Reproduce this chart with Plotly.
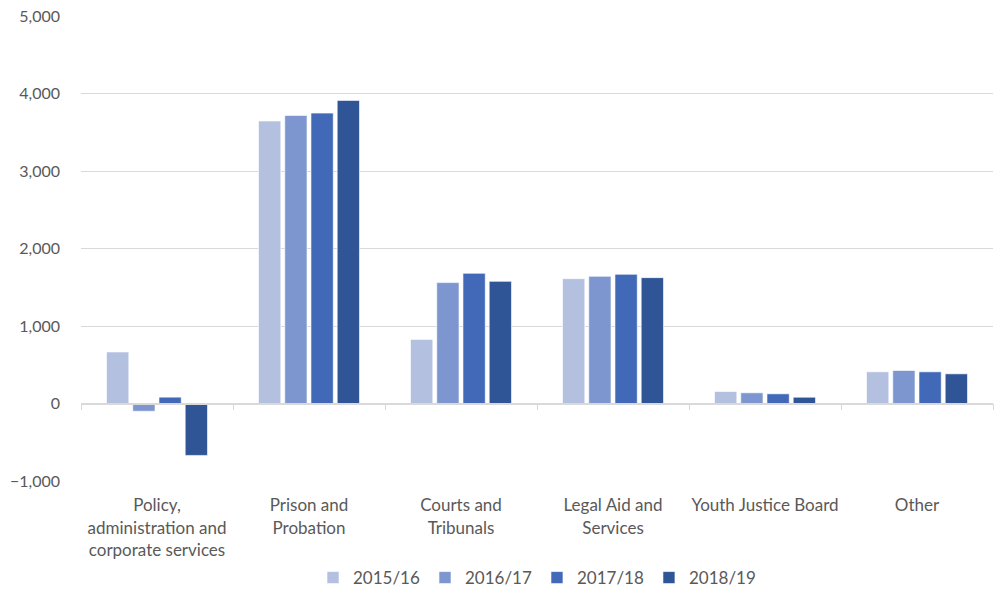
import plotly.graph_objects as go

categories = ["Policy,<br>administration and<br>corporate services", "Prison and<br>Probation",
              "Courts and<br>Tribunals", "Legal Aid and<br>Services", "Youth Justice Board", "Other"]
years = ["2015/16", "2016/17", "2017/18", "2018/19"]
v2015 = [665, 3645, 827, 1611, 155, 409]
v2016 = [-100, 3717, 1560, 1641, 138, 426]
v2017 = [82, 3747, 1680, 1667, 125, 409]
v2018 = [-670, 3911, 1576, 1624, 81, 383]
series = [v2015, v2016, v2017, v2018]
colors = ["#b4c0e0", "#7e96cf", "#4169b8", "#2f5597"]
y_ticks = [-1000, 0, 1000, 2000, 3000, 4000, 5000]

font = "Lato, Open Sans, sans-serif"
fig = go.Figure()
for name, vals, c in zip(years, series, colors):
    fig.add_trace(go.Bar(x=categories, y=vals, name=name, marker=dict(color=c, line=dict(color="rgba(255,255,255,0.6)", width=1))))
# helper trace to show zero-line axis with boundary ticks
fig.add_trace(go.Bar(x=categories, y=[0]*6, xaxis="x2", showlegend=False, hoverinfo="skip", marker=dict(color="rgba(0,0,0,0)")))

ymin, ymax = -1000, 5000
fig.update_layout(
    width=996, height=596,
    margin=dict(l=81, r=3, t=16, b=115, autoexpand=False),
    paper_bgcolor="white", plot_bgcolor="white",
    barmode="group", bargap=0.31, bargroupgap=0.15,
    font=dict(family=font, size=17, color="#595959"),
    xaxis=dict(showline=False, ticks="outside", ticklen=9, tickcolor="rgba(0,0,0,0)", showgrid=False, zeroline=False,
               tickfont=dict(size=17, color="#595959")),
    xaxis2=dict(matches="x", overlaying="x", anchor="free", position=(0 - ymin) / (ymax - ymin),
                showline=True, linecolor="#d9d9d9", linewidth=1.5, ticks="outside", tickson="boundaries",
                ticklen=6, tickcolor="#d9d9d9", showticklabels=False, showgrid=False, zeroline=False),
    yaxis=dict(range=[ymin, ymax], tickvals=y_ticks, tickformat=",", showgrid=True, gridcolor="#d9d9d9",
               gridwidth=1, zeroline=False, showline=False, ticklabelstandoff=20,
               tickfont=dict(size=16, color="#595959")),
    legend=dict(orientation="h", x=0.5, xanchor="center", yref="container", y=0, yanchor="bottom",
                font=dict(size=17, color="#595959"), itemwidth=30, traceorder="normal"),
)
fig.write_html("out.html")
